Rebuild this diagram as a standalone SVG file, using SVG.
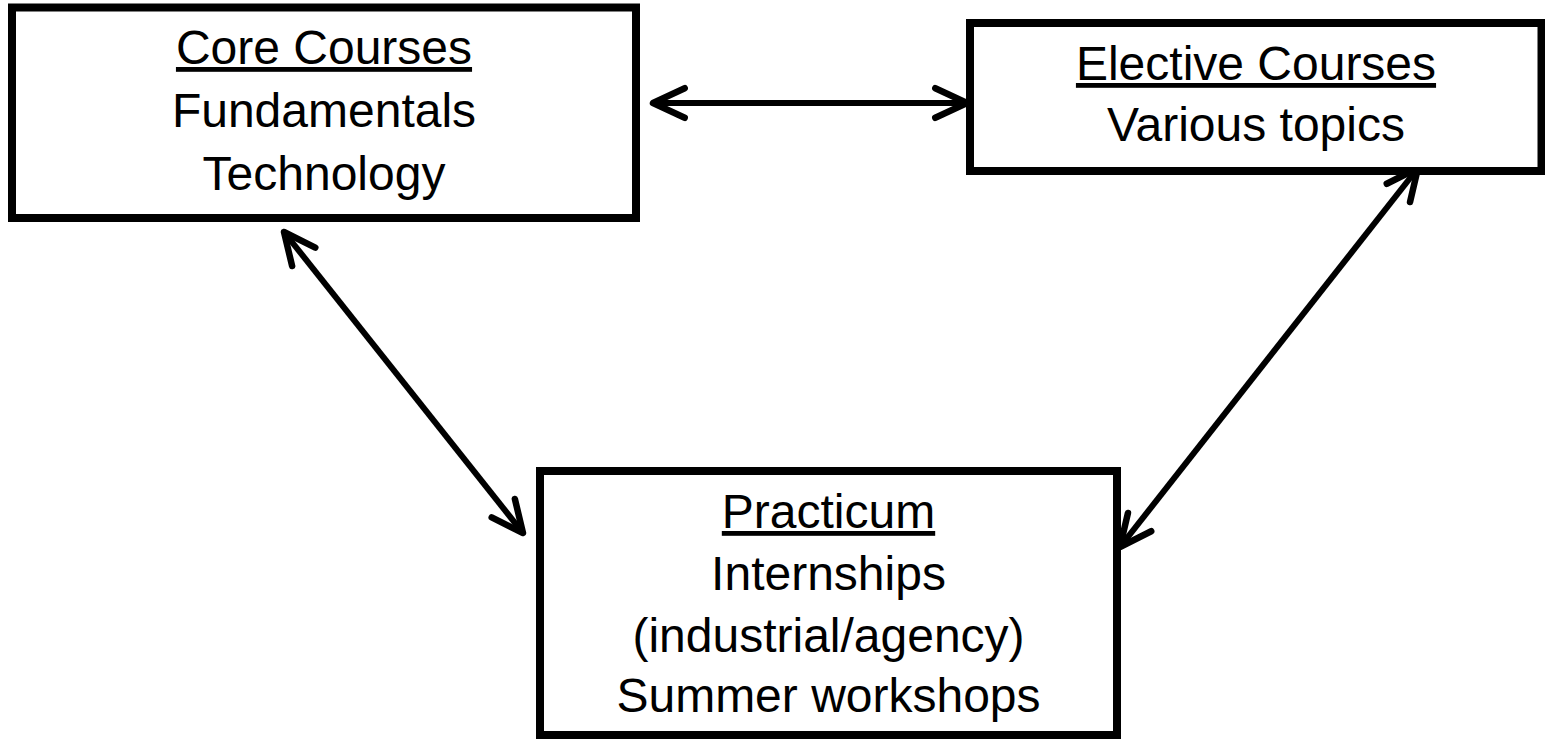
<svg xmlns="http://www.w3.org/2000/svg" width="1545" height="739" viewBox="0 0 1545 739">
<style>
.box{fill:#fff;stroke:#000;stroke-width:8}
.t{font-family:"Liberation Sans",Arial,sans-serif;font-size:48px;fill:#000;text-anchor:middle}
.h{text-decoration:underline}
.c{stroke:#000;stroke-width:6;fill:none;marker-start:url(#chev);marker-end:url(#chev)}
</style>
<defs>
<marker id="chev" markerUnits="userSpaceOnUse" viewBox="-40 -22 46 44" markerWidth="46" markerHeight="44" refX="0" refY="0" orient="auto-start-reverse" overflow="visible">
<path d="M-31.7,-14.8 L0,0 L-31.7,14.8" fill="none" stroke="#000" stroke-width="6.5" stroke-linecap="round" stroke-linejoin="round"/>
</marker>
</defs>
<rect width="1545" height="739" fill="#fff"/>
<g id="connectors">
<line class="c" x1="653" y1="103" x2="967" y2="103"/>
<line class="c" x1="284" y1="232" x2="523" y2="533"/>
<line class="c" x1="1418" y1="168" x2="1120" y2="547"/>
</g>
<g id="core">
<rect class="box" x="12" y="7.5" width="624" height="210.5"/>
<text class="t h" x="324" y="64">Core Courses</text>
<text class="t" x="324" y="127">Fundamentals</text>
<text class="t" x="324" y="190">Technology</text>
</g>
<g id="elective">
<rect class="box" x="970" y="23" width="571.5" height="148"/>
<text class="t h" x="1256" y="80">Elective Courses</text>
<text class="t" x="1256" y="141">Various topics</text>
</g>
<g id="practicum">
<rect class="box" x="540" y="471" width="577" height="264"/>
<text class="t h" x="828.5" y="528">Practicum</text>
<text class="t" x="828.5" y="590">Internships</text>
<text class="t" x="828.5" y="652">(industrial/agency)</text>
<text class="t" x="828.5" y="712">Summer workshops</text>
</g>
</svg>
